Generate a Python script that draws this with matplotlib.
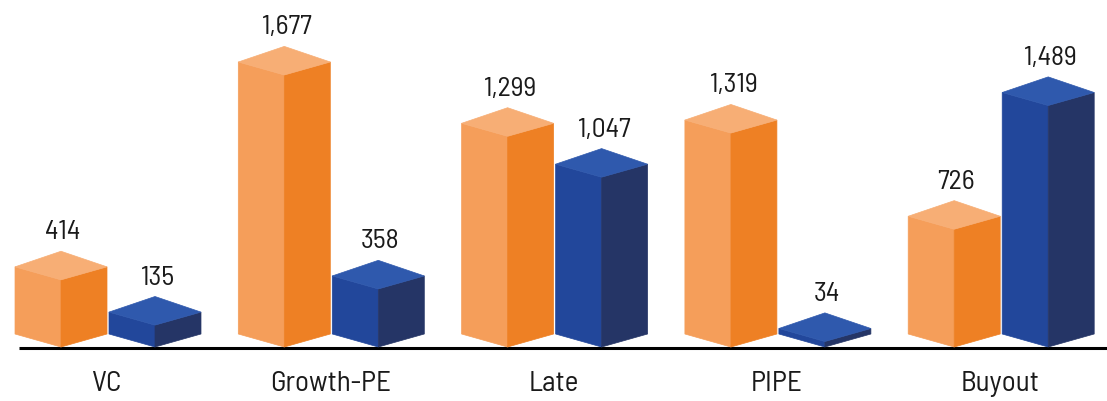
import matplotlib
matplotlib.use("Agg")
import matplotlib.pyplot as plt
from matplotlib.patches import Polygon

# deal counts by stage, two series side by side
categories = ["VC", "Growth-PE", "Late", "PIPE", "Buyout"]
orange_vals = [414, 1677, 1299, 1319, 726]
blue_vals = [135, 358, 1047, 34, 1489]

ORANGE = {"left": "#F59E5A", "right": "#EE8024", "top": "#F7AE75"}
BLUE = {"left": "#22479B", "right": "#253566", "top": "#2F59AD"}
FONT = ["Barlow Semi Condensed", "DejaVu Sans"]
TEXT_COLOR = "#1a1a1a"

W, H, DPI = 1107, 401, 100
fig = plt.figure(figsize=(W / DPI, H / DPI), dpi=DPI)
ax = fig.add_axes([0, 0, 1, 1])
ax.set_axis_off()

# axis limits: one category = 223 px, baseline 54 px above the bottom
cat_px = 223.3
x0_px = 107
base_px = 54
val_per_px = 1677 / 272.0
ax.set_xlim(-x0_px / cat_px, (W - x0_px) / cat_px)
ax.set_ylim(-base_px * val_per_px, (H - base_px) * val_per_px)

half_w = 46 / cat_px          # half width of one box (front corner to side)
depth = 13 * val_per_px       # vertical rise of the isometric top/bottom
pt = 72.0 / DPI               # points per pixel


def draw_box(ax, xm, value, colors):
    h = value
    d = depth
    left = [(xm - half_w, d), (xm, 0), (xm, h), (xm - half_w, h + d)]
    right = [(xm, 0), (xm + half_w, d), (xm + half_w, h + d), (xm, h)]
    top = [(xm - half_w, h + d), (xm, h),
           (xm + half_w, h + d), (xm, h + 2.2 * d)]
    for pts, key in [(left, "left"), (right, "right"), (top, "top")]:
        ax.add_patch(Polygon(pts, closed=True, facecolor=colors[key],
                             edgecolor=colors[key], lw=0.5, zorder=3))
    ax.annotate(f"{value:,}", (xm, h + 2.2 * d), xytext=(2 * pt, 12 * pt),
                textcoords="offset points", ha="center", va="baseline",
                fontsize=20, color=TEXT_COLOR, family=FONT)


for i, cat in enumerate(categories):
    draw_box(ax, i - half_w, orange_vals[i], ORANGE)
    draw_box(ax, i + half_w + 2 / cat_px, blue_vals[i], BLUE)
    ax.text(i, -44 * val_per_px, cat, ha="center", va="baseline",
            fontsize=21, color=TEXT_COLOR, family=FONT)

# baseline
ax.plot([-(x0_px - 19) / cat_px, (W - x0_px) / cat_px],
        [-1.2 * val_per_px] * 2, color="black", lw=2.2, zorder=2,
        solid_capstyle="butt")

fig.savefig("out.png", dpi=DPI)
